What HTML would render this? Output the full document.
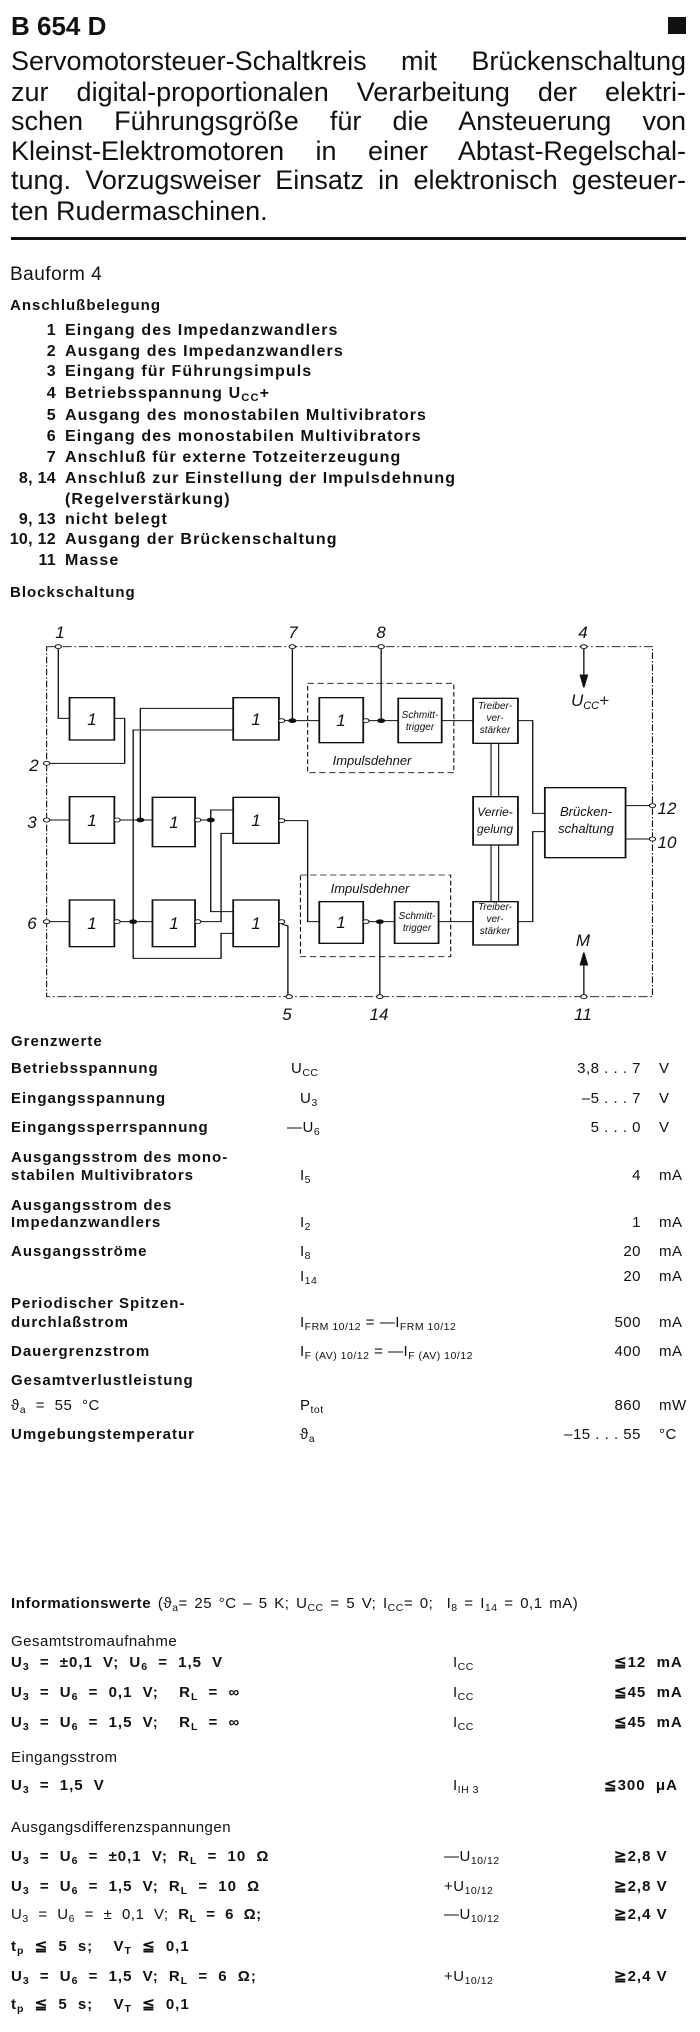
<!DOCTYPE html>
<html><head><meta charset="utf-8">
<style>
body{margin:0;background:#fff;}
#p{position:relative;width:700px;height:2032px;overflow:hidden;background:#fff;color:#111;font-family:"Liberation Sans",sans-serif;}
.t{position:absolute;white-space:nowrap;line-height:1;}
.b{font-weight:bold;font-size:15px;letter-spacing:1px;}
.n{font-size:15px;letter-spacing:0.5px;}
.c{word-spacing:5px;}
.pl{position:absolute;left:11px;width:675px;font-size:27px;line-height:30px;height:30px;text-align:justify;text-align-last:justify;white-space:nowrap;}
.r{text-align:right;}
sub{font-size:70%;vertical-align:-3px;line-height:0;}
.li{position:absolute;left:0;font-weight:bold;font-size:16px;letter-spacing:1.1px;line-height:1;white-space:nowrap;}
.li span{display:inline-block;width:56px;text-align:right;margin-right:9px;letter-spacing:0.3px;}
</style></head><body><div id="p">
<div class="t" style="left:11px;top:13px;font-size:26px;font-weight:bold;">B 654 D</div>
<div style="position:absolute;left:668px;top:17px;width:18px;height:17px;background:#111;"></div>
<div class="pl" style="top:46px;">Servomotorsteuer-Schaltkreis&nbsp; mit&nbsp; Brückenschaltung</div>
<div class="pl" style="top:77px;">zur digital-proportionalen Verarbeitung der elektri-</div>
<div class="pl" style="top:106px;">schen Führungsgröße für die Ansteuerung von</div>
<div class="pl" style="top:136px;">Kleinst-Elektromotoren in einer Abtast-Regelschal-</div>
<div class="pl" style="top:165px;">tung. Vorzugsweiser Einsatz in elektronisch gesteuer-</div>
<div class="pl" style="top:196px;text-align-last:left;">ten Rudermaschinen.</div>
<div style="position:absolute;left:11px;top:237px;width:675px;height:3px;background:#111;"></div>
<div class="t" style="left:10px;top:265px;font-size:19px;letter-spacing:0.5px;">Bauform 4</div>
<div class="t b" style="left:10px;top:298px;">Anschlußbelegung</div>
<div class="li" style="top:323px;"><span>1</span>Eingang des Impedanzwandlers</div>
<div class="li" style="top:344px;"><span>2</span>Ausgang des Impedanzwandlers</div>
<div class="li" style="top:364px;"><span>3</span>Eingang für Führungsimpuls</div>
<div class="li" style="top:386px;"><span>4</span>Betriebsspannung U<sub>CC</sub>+</div>
<div class="li" style="top:408px;"><span>5</span>Ausgang des monostabilen Multivibrators</div>
<div class="li" style="top:429px;"><span>6</span>Eingang des monostabilen Multivibrators</div>
<div class="li" style="top:450px;"><span>7</span>Anschluß für externe Totzeiterzeugung</div>
<div class="li" style="top:471px;"><span>8, 14</span>Anschluß zur Einstellung der Impulsdehnung</div>
<div class="li" style="top:492px;"><span></span>(Regelverstärkung)</div>
<div class="li" style="top:512px;"><span>9, 13</span>nicht belegt</div>
<div class="li" style="top:532px;"><span>10, 12</span>Ausgang der Brückenschaltung</div>
<div class="li" style="top:553px;"><span>11</span>Masse</div>
<div class="t b" style="left:10px;top:585px;">Blockschaltung</div>

<svg style="position:absolute;left:0;top:600px;" width="700" height="420" viewBox="0 0 700 420">
<g transform="scale(0.44843,0.33333)" fill="none" stroke="#111" stroke-width="3">
<rect x="104" y="140" width="1351" height="1050" stroke-width="2.5" stroke-dasharray="20 6 4 6"/>
<rect x="686" y="250" width="326" height="268" stroke-width="2.5" stroke-dasharray="14 8"/>
<rect x="670" y="825" width="335" height="245" stroke-width="2.5" stroke-dasharray="14 8"/>
<g stroke-width="4">
<rect x="155" y="293" width="100" height="127"/>
<rect x="520" y="293" width="102" height="127"/>
<rect x="712" y="293" width="98" height="135"/>
<rect x="888" y="295" width="97" height="133"/>
<rect x="1055" y="295" width="100" height="135"/>
<rect x="155" y="590" width="100" height="140"/>
<rect x="340" y="592" width="95" height="148"/>
<rect x="520" y="592" width="102" height="138"/>
<rect x="1055" y="590" width="100" height="145"/>
<rect x="1215" y="563" width="180" height="210"/>
<rect x="155" y="900" width="100" height="140"/>
<rect x="340" y="900" width="95" height="140"/>
<rect x="520" y="900" width="102" height="140"/>
<rect x="712" y="905" width="98" height="125"/>
<rect x="880" y="905" width="98" height="125"/>
<rect x="1055" y="905" width="100" height="130"/>
</g>
<polyline points="130,146 130,355 155,355"/>
<polyline points="255,355 278,355 278,490 110,490"/>
<polyline points="110,660 155,660"/>
<polyline points="110,965 155,965"/>
<polyline points="520,325 313,325 313,660"/>
<polyline points="520,390 297,390 297,1075 493,1075 493,1000 520,1000"/>
<polyline points="262,660 340,660"/>
<polyline points="262,965 340,965"/>
<polyline points="442,660 470,660"/>
<polyline points="520,630 470,630 470,935 520,935"/>
<polyline points="442,965 493,965 493,700 520,700"/>
<polyline points="629,662 686,662 686,965 712,965"/>
<polyline points="629,362 712,362"/>
<polyline points="652,146 652,362"/>
<polyline points="817,362 888,362"/>
<polyline points="850,146 850,362"/>
<polyline points="985,362 1055,362"/>
<polyline points="1155,362 1188,362 1188,640 1215,640"/>
<polyline points="1155,965 1188,965 1188,695 1215,695"/>
<polyline points="1395,617 1449,617"/>
<polyline points="1395,717 1449,717"/>
<polyline points="817,965 880,965"/>
<polyline points="847,965 847,1184"/>
<polyline points="978,965 1055,965"/>
<polyline points="628,972 642,978 642,1184"/>
<g stroke-width="2.5">
<line x1="1095" y1="430" x2="1095" y2="590"/><line x1="1112" y1="430" x2="1112" y2="590"/>
<line x1="1095" y1="735" x2="1095" y2="905"/><line x1="1112" y1="735" x2="1112" y2="905"/>
</g>
<line x1="1302" y1="146" x2="1302" y2="230"/>
<polygon points="1294,225 1310,225 1302,262" fill="#111"/>
<line x1="1302" y1="1184" x2="1302" y2="1090"/>
<polygon points="1294,1095 1310,1095 1302,1058" fill="#111"/>
<g stroke-width="2.5" fill="#fff">
<ellipse cx="130" cy="140" rx="7" ry="6"/><ellipse cx="652" cy="140" rx="7" ry="6"/>
<ellipse cx="850" cy="140" rx="7" ry="6"/><ellipse cx="1302" cy="140" rx="7" ry="6"/>
<ellipse cx="104" cy="490" rx="7" ry="6"/><ellipse cx="104" cy="660" rx="7" ry="6"/>
<ellipse cx="104" cy="965" rx="7" ry="6"/><ellipse cx="1455" cy="617" rx="7" ry="6"/>
<ellipse cx="1455" cy="717" rx="7" ry="6"/><ellipse cx="645" cy="1190" rx="7" ry="6"/>
<ellipse cx="847" cy="1190" rx="7" ry="6"/><ellipse cx="1302" cy="1190" rx="7" ry="6"/>
<ellipse cx="261" cy="660" rx="7" ry="6"/><ellipse cx="441" cy="660" rx="7" ry="6"/>
<ellipse cx="628" cy="662" rx="7" ry="6"/><ellipse cx="628" cy="362" rx="7" ry="6"/>
<ellipse cx="816" cy="362" rx="7" ry="6"/><ellipse cx="261" cy="965" rx="7" ry="6"/>
<ellipse cx="441" cy="965" rx="7" ry="6"/><ellipse cx="628" cy="965" rx="7" ry="6"/>
<ellipse cx="816" cy="965" rx="7" ry="6"/>
</g>
<g fill="#111" stroke="none">
<ellipse cx="652" cy="362" rx="9" ry="7"/><ellipse cx="850" cy="362" rx="9" ry="7"/>
<ellipse cx="313" cy="660" rx="9" ry="7"/><ellipse cx="470" cy="660" rx="9" ry="7"/>
<ellipse cx="297" cy="965" rx="9" ry="7"/><ellipse cx="847" cy="965" rx="9" ry="7"/>
</g>
</g>
<g font-family="Liberation Sans, sans-serif" font-style="italic" fill="#111" text-anchor="middle">
<g font-size="17">
<text x="60" y="38">1</text><text x="293" y="38">7</text><text x="381" y="38">8</text><text x="583" y="38">4</text>
<text x="34" y="171">2</text><text x="32" y="228">3</text><text x="32" y="329">6</text>
<text x="667" y="214">12</text><text x="667" y="248">10</text>
<text x="287" y="420">5</text><text x="379" y="420">14</text><text x="583" y="420">11</text>
<text x="590" y="106">U<tspan font-size="11" dy="3">CC</tspan><tspan dy="-3">+</tspan></text>
<text x="583" y="346">M</text>
</g>
<g font-size="17">
<text x="92" y="125">1</text><text x="256" y="125">1</text><text x="341" y="126">1</text>
<text x="92" y="226">1</text><text x="174" y="228">1</text><text x="256" y="226">1</text>
<text x="92" y="329">1</text><text x="174" y="329">1</text><text x="256" y="329">1</text><text x="341" y="328">1</text>
</g>
<g font-size="10">
<text x="420" y="118">Schmitt-</text><text x="420" y="130">trigger</text>
<text x="417" y="319">Schmitt-</text><text x="417" y="331">trigger</text>
<text x="495" y="109">Treiber-</text><text x="495" y="121">ver-</text><text x="495" y="133">stärker</text>
<text x="495" y="310">Treiber-</text><text x="495" y="322">ver-</text><text x="495" y="334">stärker</text>
</g>
<g font-size="12">
<text x="495" y="216">Verrie-</text><text x="495" y="233">gelung</text>
</g>
<g font-size="13">
<text x="586" y="216">Brücken-</text><text x="586" y="233">schaltung</text>
<text x="372" y="165">Impulsdehner</text><text x="370" y="293">Impulsdehner</text>
</g>
</g>
</svg>

<div class="t b" style="left:11px;top:1034px;">Grenzwerte</div>
<div class="t b" style="left:11px;top:1061px;">Betriebsspannung</div>
<div class="t n" style="left:291px;top:1061px;">U<sub>CC</sub></div>
<div class="t n r" style="left:520px;width:121px;top:1061px;">3,8 . . . 7</div>
<div class="t n" style="left:659px;top:1061px;">V</div>
<div class="t b" style="left:11px;top:1091px;">Eingangsspannung</div>
<div class="t n" style="left:300px;top:1091px;">U<sub>3</sub></div>
<div class="t n r" style="left:520px;width:121px;top:1091px;">–5 . . . 7</div>
<div class="t n" style="left:659px;top:1091px;">V</div>
<div class="t b" style="left:11px;top:1120px;">Eingangssperrspannung</div>
<div class="t n" style="left:287px;top:1120px;">—U<sub>6</sub></div>
<div class="t n r" style="left:520px;width:121px;top:1120px;">5 . . . 0</div>
<div class="t n" style="left:659px;top:1120px;">V</div>
<div class="t b" style="left:11px;top:1150px;">Ausgangsstrom des mono-</div>
<div class="t b" style="left:11px;top:1168px;">stabilen Multivibrators</div>
<div class="t n" style="left:300px;top:1168px;">I<sub>5</sub></div>
<div class="t n r" style="left:520px;width:121px;top:1168px;">4</div>
<div class="t n" style="left:659px;top:1168px;">mA</div>
<div class="t b" style="left:11px;top:1198px;">Ausgangsstrom des</div>
<div class="t b" style="left:11px;top:1215px;">Impedanzwandlers</div>
<div class="t n" style="left:300px;top:1215px;">I<sub>2</sub></div>
<div class="t n r" style="left:520px;width:121px;top:1215px;">1</div>
<div class="t n" style="left:659px;top:1215px;">mA</div>
<div class="t b" style="left:11px;top:1244px;">Ausgangsströme</div>
<div class="t n" style="left:300px;top:1244px;">I<sub>8</sub></div>
<div class="t n r" style="left:520px;width:121px;top:1244px;">20</div>
<div class="t n" style="left:659px;top:1244px;">mA</div>
<div class="t n" style="left:300px;top:1269px;">I<sub>14</sub></div>
<div class="t n r" style="left:520px;width:121px;top:1269px;">20</div>
<div class="t n" style="left:659px;top:1269px;">mA</div>
<div class="t b" style="left:11px;top:1296px;">Periodischer Spitzen-</div>
<div class="t b" style="left:11px;top:1315px;">durchlaßstrom</div>
<div class="t n" style="left:300px;top:1315px;">I<sub>FRM 10/12</sub> = —I<sub>FRM 10/12</sub></div>
<div class="t n r" style="left:520px;width:121px;top:1315px;">500</div>
<div class="t n" style="left:659px;top:1315px;">mA</div>
<div class="t b" style="left:11px;top:1344px;">Dauergrenzstrom</div>
<div class="t n" style="left:300px;top:1344px;">I<sub>F (AV) 10/12</sub> = —I<sub>F (AV) 10/12</sub></div>
<div class="t n r" style="left:520px;width:121px;top:1344px;">400</div>
<div class="t n" style="left:659px;top:1344px;">mA</div>
<div class="t b" style="left:11px;top:1373px;">Gesamtverlustleistung</div>
<div class="t n c" style="left:11px;top:1398px;">ϑ<sub>a</sub> = 55 °C</div>
<div class="t n" style="left:300px;top:1398px;">P<sub>tot</sub></div>
<div class="t n r" style="left:520px;width:121px;top:1398px;">860</div>
<div class="t n" style="left:659px;top:1398px;">mW</div>
<div class="t b" style="left:11px;top:1427px;">Umgebungstemperatur</div>
<div class="t n" style="left:300px;top:1427px;">ϑ<sub>a</sub></div>
<div class="t n r" style="left:520px;width:121px;top:1427px;">–15 . . . 55</div>
<div class="t n" style="left:659px;top:1427px;">°C</div>

<div class="t n" style="left:11px;top:1596px;word-spacing:2px;"><b style="letter-spacing:0.6px;">Informationswerte</b> (ϑ<sub>a</sub>= 25 °C – 5 K; U<sub>CC</sub> = 5 V; I<sub>CC</sub>= 0;&nbsp; I<sub>8</sub> = I<sub>14</sub> = 0,1 mA)</div>
<div class="t n" style="left:11px;top:1634px;">Gesamtstromaufnahme</div>
<div class="t b c" style="left:11px;top:1655px;">U<sub>3</sub> = ±0,1 V; U<sub>6</sub> = 1,5 V</div>
<div class="t n" style="left:453px;top:1655px;">I<sub>CC</sub></div>
<div class="t b" style="left:614px;top:1655px;">≦12&nbsp; mA</div>
<div class="t b c" style="left:11px;top:1685px;">U<sub>3</sub> = U<sub>6</sub> = 0,1 V;&nbsp; R<sub>L</sub> = ∞</div>
<div class="t n" style="left:453px;top:1685px;">I<sub>CC</sub></div>
<div class="t b" style="left:614px;top:1685px;">≦45&nbsp; mA</div>
<div class="t b c" style="left:11px;top:1715px;">U<sub>3</sub> = U<sub>6</sub> = 1,5 V;&nbsp; R<sub>L</sub> = ∞</div>
<div class="t n" style="left:453px;top:1715px;">I<sub>CC</sub></div>
<div class="t b" style="left:614px;top:1715px;">≦45&nbsp; mA</div>
<div class="t n" style="left:11px;top:1750px;">Eingangsstrom</div>
<div class="t b c" style="left:11px;top:1778px;">U<sub>3</sub> = 1,5 V</div>
<div class="t n" style="left:453px;top:1778px;">I<sub>IH 3</sub></div>
<div class="t b" style="left:604px;top:1778px;">≦300&nbsp; μA</div>
<div class="t n" style="left:11px;top:1820px;">Ausgangsdifferenzspannungen</div>
<div class="t b c" style="left:11px;top:1849px;">U<sub>3</sub> = U<sub>6</sub> = ±0,1 V; R<sub>L</sub> = 10 Ω</div>
<div class="t n" style="left:444px;top:1849px;">—U<sub>10/12</sub></div>
<div class="t b" style="left:614px;top:1849px;">≧2,8 V</div>
<div class="t b c" style="left:11px;top:1879px;">U<sub>3</sub> = U<sub>6</sub> = 1,5 V; R<sub>L</sub> = 10 Ω</div>
<div class="t n" style="left:444px;top:1879px;">+U<sub>10/12</sub></div>
<div class="t b" style="left:614px;top:1879px;">≧2,8 V</div>
<div class="t n c" style="left:11px;top:1907px;">U<sub>3</sub> = U<sub>6</sub> = ± 0,1 V; <b>R<sub>L</sub> = 6 Ω;</b></div>
<div class="t n" style="left:444px;top:1907px;">—U<sub>10/12</sub></div>
<div class="t b" style="left:614px;top:1907px;">≧2,4 V</div>
<div class="t b c" style="left:11px;top:1939px;">t<sub>p</sub> ≦ 5 s;&nbsp; V<sub>T</sub> ≦ 0,1</div>
<div class="t b c" style="left:11px;top:1969px;">U<sub>3</sub> = U<sub>6</sub> = 1,5 V; R<sub>L</sub> = 6 Ω;</div>
<div class="t n" style="left:444px;top:1969px;">+U<sub>10/12</sub></div>
<div class="t b" style="left:614px;top:1969px;">≧2,4 V</div>
<div class="t b c" style="left:11px;top:1997px;">t<sub>p</sub> ≦ 5 s;&nbsp; V<sub>T</sub> ≦ 0,1</div>
</div></body></html>
